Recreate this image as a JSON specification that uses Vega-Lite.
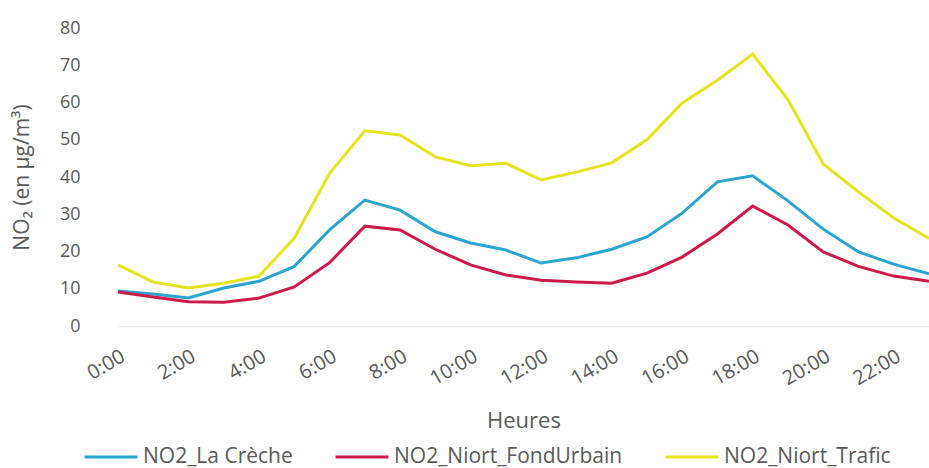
{
  "$schema": "https://vega.github.io/schema/vega-lite/v6.json",
  "autosize": {"type": "none"},
  "width": 811,
  "height": 298,
  "padding": {"left": 118, "top": 28, "right": 0, "bottom": 142},
  "background": "white",
  "config": {
    "view": {"stroke": null},
    "font": "Open Sans",
    "axis": {"labelColor": "#595959", "titleColor": "#595959", "labelFont": "Open Sans", "titleFont": "Open Sans", "titleFontWeight": "normal"}
  },
  "data": {
    "values": [
      {"h": 0, "s": "NO2_La Crèche", "v": 9.4}, {"h": 1, "s": "NO2_La Crèche", "v": 8.6}, {"h": 2, "s": "NO2_La Crèche", "v": 7.5}, {"h": 3, "s": "NO2_La Crèche", "v": 10.2}, {"h": 4, "s": "NO2_La Crèche", "v": 12}, {"h": 5, "s": "NO2_La Crèche", "v": 16}, {"h": 6, "s": "NO2_La Crèche", "v": 25.8}, {"h": 7, "s": "NO2_La Crèche", "v": 33.8}, {"h": 8, "s": "NO2_La Crèche", "v": 31.1}, {"h": 9, "s": "NO2_La Crèche", "v": 25.3}, {"h": 10, "s": "NO2_La Crèche", "v": 22.3}, {"h": 11, "s": "NO2_La Crèche", "v": 20.4}, {"h": 12, "s": "NO2_La Crèche", "v": 16.9}, {"h": 13, "s": "NO2_La Crèche", "v": 18.3}, {"h": 14, "s": "NO2_La Crèche", "v": 20.6}, {"h": 15, "s": "NO2_La Crèche", "v": 23.9}, {"h": 16, "s": "NO2_La Crèche", "v": 30.3}, {"h": 17, "s": "NO2_La Crèche", "v": 38.7}, {"h": 18, "s": "NO2_La Crèche", "v": 40.3}, {"h": 19, "s": "NO2_La Crèche", "v": 33.6}, {"h": 20, "s": "NO2_La Crèche", "v": 26}, {"h": 21, "s": "NO2_La Crèche", "v": 19.9}, {"h": 22, "s": "NO2_La Crèche", "v": 16.6}, {"h": 23, "s": "NO2_La Crèche", "v": 14},
      {"h": 0, "s": "NO2_Niort_FondUrbain", "v": 9.1}, {"h": 1, "s": "NO2_Niort_FondUrbain", "v": 7.8}, {"h": 2, "s": "NO2_Niort_FondUrbain", "v": 6.5}, {"h": 3, "s": "NO2_Niort_FondUrbain", "v": 6.4}, {"h": 4, "s": "NO2_Niort_FondUrbain", "v": 7.5}, {"h": 5, "s": "NO2_Niort_FondUrbain", "v": 10.5}, {"h": 6, "s": "NO2_Niort_FondUrbain", "v": 17}, {"h": 7, "s": "NO2_Niort_FondUrbain", "v": 26.8}, {"h": 8, "s": "NO2_Niort_FondUrbain", "v": 25.8}, {"h": 9, "s": "NO2_Niort_FondUrbain", "v": 20.6}, {"h": 10, "s": "NO2_Niort_FondUrbain", "v": 16.4}, {"h": 11, "s": "NO2_Niort_FondUrbain", "v": 13.7}, {"h": 12, "s": "NO2_Niort_FondUrbain", "v": 12.3}, {"h": 13, "s": "NO2_Niort_FondUrbain", "v": 11.8}, {"h": 14, "s": "NO2_Niort_FondUrbain", "v": 11.5}, {"h": 15, "s": "NO2_Niort_FondUrbain", "v": 14.2}, {"h": 16, "s": "NO2_Niort_FondUrbain", "v": 18.5}, {"h": 17, "s": "NO2_Niort_FondUrbain", "v": 24.7}, {"h": 18, "s": "NO2_Niort_FondUrbain", "v": 32.2}, {"h": 19, "s": "NO2_Niort_FondUrbain", "v": 27.1}, {"h": 20, "s": "NO2_Niort_FondUrbain", "v": 19.9}, {"h": 21, "s": "NO2_Niort_FondUrbain", "v": 16}, {"h": 22, "s": "NO2_Niort_FondUrbain", "v": 13.4}, {"h": 23, "s": "NO2_Niort_FondUrbain", "v": 12},
      {"h": 0, "s": "NO2_Niort_Trafic", "v": 16.4}, {"h": 1, "s": "NO2_Niort_Trafic", "v": 11.8}, {"h": 2, "s": "NO2_Niort_Trafic", "v": 10.2}, {"h": 3, "s": "NO2_Niort_Trafic", "v": 11.5}, {"h": 4, "s": "NO2_Niort_Trafic", "v": 13.4}, {"h": 5, "s": "NO2_Niort_Trafic", "v": 23.6}, {"h": 6, "s": "NO2_Niort_Trafic", "v": 41}, {"h": 7, "s": "NO2_Niort_Trafic", "v": 52.4}, {"h": 8, "s": "NO2_Niort_Trafic", "v": 51.3}, {"h": 9, "s": "NO2_Niort_Trafic", "v": 45.4}, {"h": 10, "s": "NO2_Niort_Trafic", "v": 43}, {"h": 11, "s": "NO2_Niort_Trafic", "v": 43.7}, {"h": 12, "s": "NO2_Niort_Trafic", "v": 39.2}, {"h": 13, "s": "NO2_Niort_Trafic", "v": 41.3}, {"h": 14, "s": "NO2_Niort_Trafic", "v": 43.8}, {"h": 15, "s": "NO2_Niort_Trafic", "v": 50}, {"h": 16, "s": "NO2_Niort_Trafic", "v": 59.9}, {"h": 17, "s": "NO2_Niort_Trafic", "v": 66}, {"h": 18, "s": "NO2_Niort_Trafic", "v": 73}, {"h": 19, "s": "NO2_Niort_Trafic", "v": 60.7}, {"h": 20, "s": "NO2_Niort_Trafic", "v": 43.5}, {"h": 21, "s": "NO2_Niort_Trafic", "v": 36}, {"h": 22, "s": "NO2_Niort_Trafic", "v": 29}, {"h": 23, "s": "NO2_Niort_Trafic", "v": 23.5}
    ]
  },
  "mark": {"type": "line", "strokeWidth": 3, "clip": false},
  "encoding": {
    "x": {
      "field": "h", "type": "quantitative",
      "scale": {"domain": [0, 23], "nice": false, "zero": false},
      "axis": {
        "title": "Heures", "titleFontSize": 22, "titlePadding": 22,
        "values": [0, 2, 4, 6, 8, 10, 12, 14, 16, 18, 20, 22],
        "labelExpr": "datum.value + ':00'",
        "labelAngle": -30, "labelAlign": "right", "labelBaseline": "top",
        "labelFontSize": 20, "labelPadding": 20,
        "ticks": false, "domain": true, "domainColor": "#e6e6e6", "grid": false
      }
    },
    "y": {
      "field": "v", "type": "quantitative",
      "scale": {"domain": [0, 80], "nice": false},
      "axis": {
        "title": "NO₂ (en µg/m³)", "titleFontSize": 21, "titlePadding": 27,
        "values": [0, 10, 20, 30, 40, 50, 60, 70, 80],
        "labelFontSize": 18, "labelPadding": 38,
        "ticks": false, "domain": false, "grid": false
      }
    },
    "color": {
      "field": "s", "type": "nominal",
      "scale": {"domain": ["NO2_La Crèche", "NO2_Niort_FondUrbain", "NO2_Niort_Trafic"], "range": ["#2aa5cf", "#cc1a4a", "#e3e41e"]},
      "legend": {
        "title": null, "orient": "none", "direction": "horizontal",
        "legendX": -35, "legendY": 401,
        "symbolType": "stroke", "symbolStrokeWidth": 3, "symbolSize": 2800,
        "labelFontSize": 21, "labelColor": "#595959", "labelFont": "Open Sans",
        "columnPadding": 36, "labelOffset": 4, "labelLimit": 400
      }
    }
  }
}
